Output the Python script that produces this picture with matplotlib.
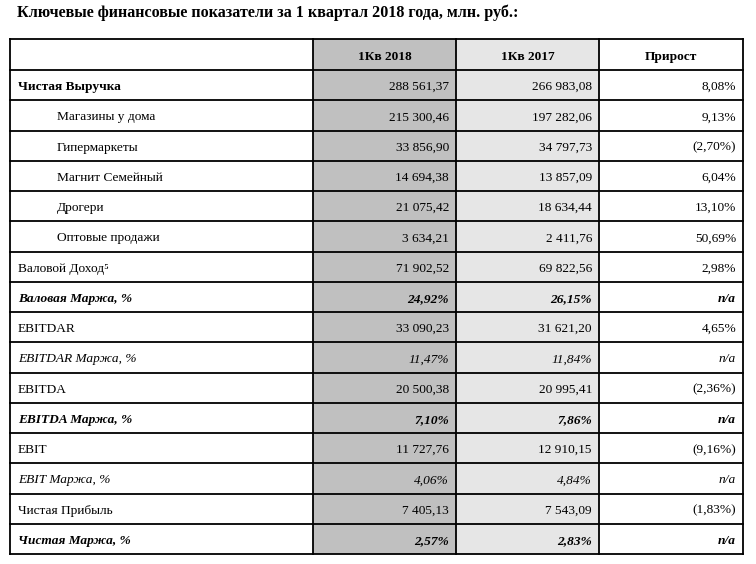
import numpy as np
import matplotlib
matplotlib.use('Agg')
import matplotlib.pyplot as plt
from matplotlib.patches import Rectangle

#------ données du tableau ------
title = 'Ключевые финансовые показатели за 1 квартал 2018 года, млн. руб.:'
col_headers = ['1Кв 2018', '1Кв 2017', 'Прирост']

row_labels = ['Чистая Выручка', 'Магазины у дома', 'Гипермаркеты', 'Магнит Семейный',
              'Дрогери', 'Оптовые продажи', 'Валовой Доход⁵', 'Валовая Маржа, %',
              'EBITDAR', 'EBITDAR Маржа, %', 'EBITDA', 'EBITDA Маржа, %',
              'EBIT', 'EBIT Маржа, %', 'Чистая Прибыль', 'Чистая Маржа, %']
q1_2018 = ['288 561,37', '215 300,46', '33 856,90', '14 694,38', '21 075,42', '3 634,21',
           '71 902,52', '24,92%', '33 090,23', '11,47%', '20 500,38', '7,10%',
           '11 727,76', '4,06%', '7 405,13', '2,57%']
q1_2017 = ['266 983,08', '197 282,06', '34 797,73', '13 857,09', '18 634,44', '2 411,76',
           '69 822,56', '26,15%', '31 621,20', '11,84%', '20 995,41', '7,86%',
           '12 910,15', '4,84%', '7 543,09', '2,83%']
growth = ['8,08%', '9,13%', '(2,70%)', '6,04%', '13,10%', '50,69%', '2,98%', 'n/a',
          '4,65%', 'n/a', '(2,36%)', 'n/a', '(9,16%)', 'n/a', '(1,83%)', 'n/a']
# style : 'label_bold', 'indent', 'normal', 'bi' (gras italique), 'it' (italique)
row_style = ['label_bold', 'indent', 'indent', 'indent', 'indent', 'indent', 'normal', 'bi',
             'normal', 'it', 'normal', 'bi', 'normal', 'it', 'normal', 'bi']

#------ géométrie (pixels) ------
W, H = 756, 564
x_left, x_right = 10, 743
col_x = [313, 456, 599]   # début des colonnes chiffrées
y_top, y_head = 39, 70
row_h = (554 - y_head) / len(row_labels)
fs = 9.6
font = ['Liberation Serif', 'DejaVu Serif']

fig = plt.figure(figsize=(W / 100, H / 100), dpi=100)
ax = fig.add_axes([0, 0, 1, 1])
ax.set_xlim(0, W)
ax.set_ylim(H, 0)
ax.axis('off')

y_bot = y_head + row_h * len(row_labels)

# fonds gris des colonnes
ax.add_patch(Rectangle((col_x[0], y_top), col_x[1] - col_x[0], y_bot - y_top, fc='#c0c0c0', ec='none'))
ax.add_patch(Rectangle((col_x[1], y_top), col_x[2] - col_x[1], y_bot - y_top, fc='#e6e6e6', ec='none'))

# lignes
lw = 1.3
for y in [y_top, y_head] + [y_head + row_h * (i + 1) for i in range(len(row_labels))]:
    ax.plot([x_left, x_right], [y, y], color='black', lw=lw, solid_capstyle='projecting')
for x in [x_left] + col_x + [x_right]:
    ax.plot([x, x], [y_top, y_bot], color='black', lw=lw, solid_capstyle='projecting')

# titre
ax.text(17, 17, title, fontsize=11.6, fontweight='bold', family=font, va='baseline', ha='left')

# entêtes
edges = col_x + [x_right]
for j, h in enumerate(col_headers):
    ax.text((edges[j] + edges[j + 1]) / 2, (y_top + y_head) / 2 + 5.5, h, fontsize=fs,
            fontweight='bold', family=font, ha='center', va='baseline')

# lignes de données
for i, lab in enumerate(row_labels):
    yb = y_head + row_h * (i + 0.5) + 5   # ligne de base du texte
    st = row_style[i]
    lw_lab = 'bold' if st in ('label_bold', 'bi') else 'normal'
    ls_lab = 'italic' if st in ('bi', 'it') else 'normal'
    x_lab = 57 if st == 'indent' else 18
    ax.text(x_lab, yb, lab, fontsize=fs, fontweight=lw_lab, fontstyle=ls_lab,
            family=font, ha='left', va='baseline')
    w_val = 'bold' if st == 'bi' else 'normal'
    s_val = 'italic' if st in ('bi', 'it') else 'normal'
    for j, v in enumerate([q1_2018[i], q1_2017[i], growth[i]]):
        ax.text(edges[j + 1] - 7, yb, v, fontsize=fs, fontweight=w_val, fontstyle=s_val,
                family=font, ha='right', va='baseline')

fig.savefig('out.png', dpi=100, facecolor='white')
